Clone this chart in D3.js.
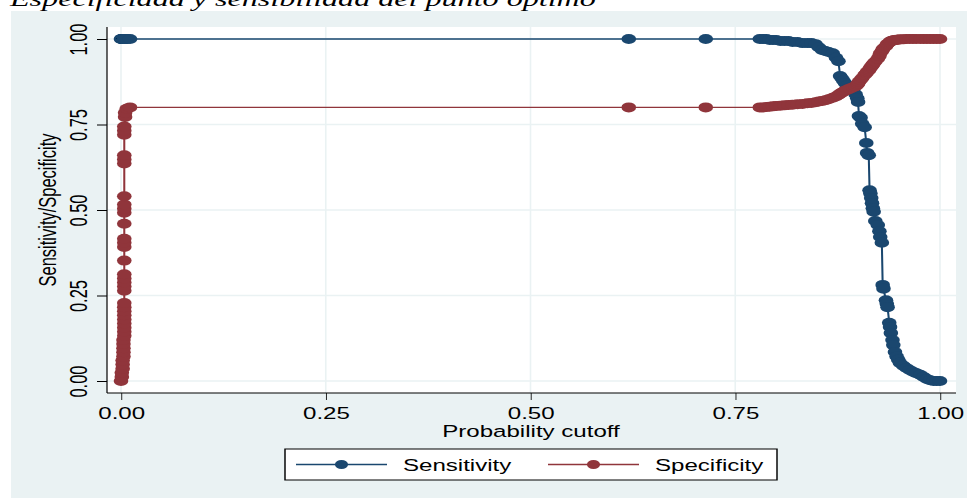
<!DOCTYPE html>
<html>
<head>
<meta charset="utf-8">
<title>Especificidad y sensibilidad</title>
<script src="https://d3js.org/d3.v7.min.js"></script>
<style>
body { margin: 0; background: white; overflow: hidden; }
text { font-family: "Liberation Sans", Arial, sans-serif; }
</style>
</head>
<body>
<script>
// probability cutoffs (lsens) and the two curves at each one
var cutoff = [
  0.000, 0.001, 0.001, 0.002, 0.002, 0.002, 0.003, 0.003, 0.003, 0.003,
  0.003, 0.004, 0.004, 0.004, 0.004, 0.004, 0.004, 0.004, 0.004, 0.004,
  0.004, 0.004, 0.004, 0.004, 0.004, 0.004, 0.004, 0.004, 0.004, 0.004,
  0.004, 0.004, 0.004, 0.004, 0.004, 0.004, 0.004, 0.004, 0.004, 0.004,
  0.005, 0.005, 0.007, 0.011,
  0.620, 0.714,
  0.780, 0.784, 0.788, 0.792, 0.796, 0.800, 0.805, 0.810, 0.815, 0.820,
  0.826, 0.832, 0.838, 0.843, 0.848, 0.852, 0.856, 0.860, 0.864, 0.869,
  0.873, 0.876, 0.878, 0.880, 0.882, 0.884, 0.887, 0.890, 0.894, 0.897,
  0.899, 0.900, 0.901, 0.903, 0.905, 0.908, 0.910, 0.911, 0.913, 0.914,
  0.915, 0.916, 0.917, 0.918, 0.919, 0.921, 0.924, 0.926, 0.927, 0.929,
  0.930, 0.931, 0.934, 0.935, 0.936, 0.938, 0.939, 0.940, 0.942, 0.943,
  0.945, 0.947, 0.949, 0.951, 0.955, 0.959, 0.963, 0.967, 0.971, 0.976,
  0.980, 0.984, 0.988, 0.992, 0.996, 1.000
];
var sensitivity = [
  1, 1, 1, 1, 1, 1, 1, 1, 1, 1,
  1, 1, 1, 1, 1, 1, 1, 1, 1, 1,
  1, 1, 1, 1, 1, 1, 1, 1, 1, 1,
  1, 1, 1, 1, 1, 1, 1, 1, 1, 1,
  1, 1, 1, 1,
  1, 1,
  1.000, 1.000, 1.000, 0.997, 0.997, 0.997, 0.994, 0.994, 0.994, 0.991,
  0.991, 0.988, 0.988, 0.988, 0.985, 0.976, 0.968, 0.965, 0.962, 0.958,
  0.945, 0.935, 0.892, 0.885, 0.878, 0.871, 0.865, 0.858, 0.848, 0.838,
  0.827, 0.816, 0.775, 0.770, 0.752, 0.742, 0.696, 0.667, 0.660, 0.558,
  0.548, 0.535, 0.520, 0.505, 0.495, 0.468, 0.456, 0.438, 0.421, 0.404,
  0.281, 0.270, 0.236, 0.226, 0.216, 0.170, 0.158, 0.140, 0.120, 0.105,
  0.085, 0.072, 0.062, 0.053, 0.045, 0.038, 0.032, 0.027, 0.023, 0.018,
  0.012, 0.006, 0.002, 0.000, 0.000, 0.000
];
var specificity = [
  0.000, 0.012, 0.024, 0.036, 0.048, 0.060, 0.072, 0.084, 0.096, 0.108,
  0.120, 0.132, 0.144, 0.156, 0.168, 0.180, 0.192, 0.204, 0.216, 0.228,
  0.264, 0.276, 0.288, 0.300, 0.312, 0.352, 0.392, 0.404, 0.416, 0.460,
  0.492, 0.504, 0.516, 0.540, 0.636, 0.648, 0.660, 0.720, 0.732, 0.744,
  0.772, 0.784, 0.796, 0.800,
  0.800, 0.800,
  0.800, 0.800, 0.801, 0.802, 0.803, 0.804, 0.805, 0.806, 0.807, 0.808,
  0.809, 0.810, 0.812, 0.813, 0.815, 0.817, 0.819, 0.821, 0.824, 0.828,
  0.832, 0.836, 0.840, 0.843, 0.846, 0.849, 0.852, 0.855, 0.859, 0.862,
  0.866, 0.870, 0.875, 0.880, 0.886, 0.895, 0.900, 0.904, 0.908, 0.912,
  0.916, 0.919, 0.922, 0.925, 0.929, 0.934, 0.942, 0.950, 0.958, 0.964,
  0.969, 0.973, 0.979, 0.983, 0.986, 0.990, 0.992, 0.994, 0.995, 0.996,
  0.997, 0.998, 0.998, 0.999, 0.999, 1.000, 1.000, 1.000, 1.000, 1.000,
  1.000, 1.000, 1.000, 1.000, 1.000, 1.000
];
var ticks = [0, 0.25, 0.5, 0.75, 1];
var seriesNames = ["Sensitivity", "Specificity"];
var titleText = "Especificidad y sensibilidad del punto óptimo";
var xTitle = "Probability cutoff";
var yTitle = "Sensitivity/Specificity";

var width = 967, height = 498;
var S = 1.46; // the whole picture is stretched sideways by this much
var sensColor = "#1a476f", specColor = "#90353b";
var bgColor = "#eaf2f3";
var markR = 5;

function px(v) { return v / S; }

var svg = d3.select("body")
  .append("svg")
  .attr("width", width)
  .attr("height", height)
  .attr("viewBox", "0 0 " + px(width) + " " + height)
  .attr("preserveAspectRatio", "none");

// title, cut off at the top of the picture
svg.append("text")
  .attr("x", px(10))
  .attr("y", 6)
  .style("font-family", "'Liberation Serif', 'Times New Roman', serif")
  .style("font-style", "italic")
  .style("font-size", "22px")
  .text(titleText);

// outer graph region
svg.append("rect")
  .attr("x", px(11)).attr("y", 11)
  .attr("width", px(width - 11)).attr("height", height - 11)
  .attr("fill", bgColor);

// plot region
svg.append("rect")
  .attr("x", px(107)).attr("y", 27)
  .attr("width", px(956 - 107)).attr("height", 393 - 27)
  .attr("fill", "white");

var x = d3.scaleLinear().domain([0, 1]).range([px(121), px(940)]);
var y = d3.scaleLinear().domain([0, 1]).range([381, 39]);

// grid
var grid = svg.append("g").attr("stroke", bgColor).attr("stroke-width", 1.6);
grid.selectAll(".gy").data(ticks).enter().append("line")
  .attr("x1", px(107)).attr("x2", px(956))
  .attr("y1", d => y(d)).attr("y2", d => y(d));
grid.selectAll(".gx").data(ticks).enter().append("line")
  .attr("y1", 27).attr("y2", 393)
  .attr("x1", d => x(d)).attr("x2", d => x(d))
  .attr("stroke-width", 1.6 / S);

// axes
var fmt = d3.format(".2f");
var yAxis = svg.append("g")
  .attr("transform", "translate(" + px(107) + ",0)")
  .call(d3.axisLeft(y).tickValues(ticks).tickFormat(fmt).tickSize(px(10)).tickSizeOuter(0));
yAxis.select(".domain").attr("d", "M0,27V393").attr("stroke-width", 1.2 / S);
yAxis.selectAll(".tick line").attr("stroke-width", 1);
yAxis.selectAll(".tick text")
  .attr("x", 0).attr("y", 0).attr("dy", null)
  .attr("text-anchor", "middle")
  .attr("transform", "translate(" + px(86.5 - 107) + ",0) rotate(-90)")
  .style("font-size", "16.5px")
  .attr("fill", "black");

var xAxis = svg.append("g")
  .attr("transform", "translate(0,393)")
  .call(d3.axisBottom(x).tickValues(ticks).tickFormat(fmt).tickSize(7).tickSizeOuter(0));
xAxis.select(".domain").attr("d", "M" + px(107) + ",0H" + px(956)).attr("stroke-width", 1.2);
xAxis.selectAll(".tick line").attr("stroke-width", 1 / S);
xAxis.selectAll(".tick text")
  .attr("y", 26).attr("dy", null)
  .style("font-size", "16.5px")
  .attr("fill", "black");

svg.append("text")
  .attr("x", px(531)).attr("y", 437)
  .attr("text-anchor", "middle")
  .style("font-size", "16.5px")
  .text(xTitle);

svg.append("text")
  .attr("transform", "translate(" + px(56) + ",210) rotate(-90)")
  .attr("text-anchor", "middle")
  .style("font-size", "16.5px")
  .text(yTitle);

// series: sensitivity first, specificity drawn on top
var rows = cutoff.map((c, i) => ({ c: c, sens: sensitivity[i], spec: specificity[i] }));
var series = [
  { key: "sens", color: sensColor },
  { key: "spec", color: specColor }
];
series.forEach(function (s) {
  var line = d3.line().x(d => x(d.c)).y(d => y(d[s.key]));
  svg.append("path")
    .datum(rows)
    .attr("fill", "none")
    .attr("stroke", s.color)
    .attr("stroke-width", 1.4)
    .attr("d", line);
  svg.append("g").selectAll("circle")
    .data(rows)
    .enter().append("circle")
    .attr("cx", d => x(d.c))
    .attr("cy", d => y(d[s.key]))
    .attr("r", markR)
    .attr("fill", s.color);
});

// legend
var leg = svg.append("g");
leg.append("rect")
  .attr("x", px(285)).attr("y", 449)
  .attr("width", px(777 - 285)).attr("height", 31)
  .attr("fill", "white").attr("stroke", "black").attr("stroke-width", 1);
var legX = [296, 548];
seriesNames.forEach(function (name, i) {
  var c = i === 0 ? sensColor : specColor;
  leg.append("line")
    .attr("x1", px(legX[i])).attr("x2", px(legX[i] + 91))
    .attr("y1", 464.5).attr("y2", 464.5)
    .attr("stroke", c).attr("stroke-width", 1.4);
  leg.append("circle")
    .attr("cx", px(legX[i] + 45.5)).attr("cy", 464.5)
    .attr("r", 4.5).attr("fill", c);
  leg.append("text")
    .attr("x", px(legX[i] + 107)).attr("y", 471)
    .style("font-size", "16.5px")
    .text(name);
});
</script>
</body>
</html>
